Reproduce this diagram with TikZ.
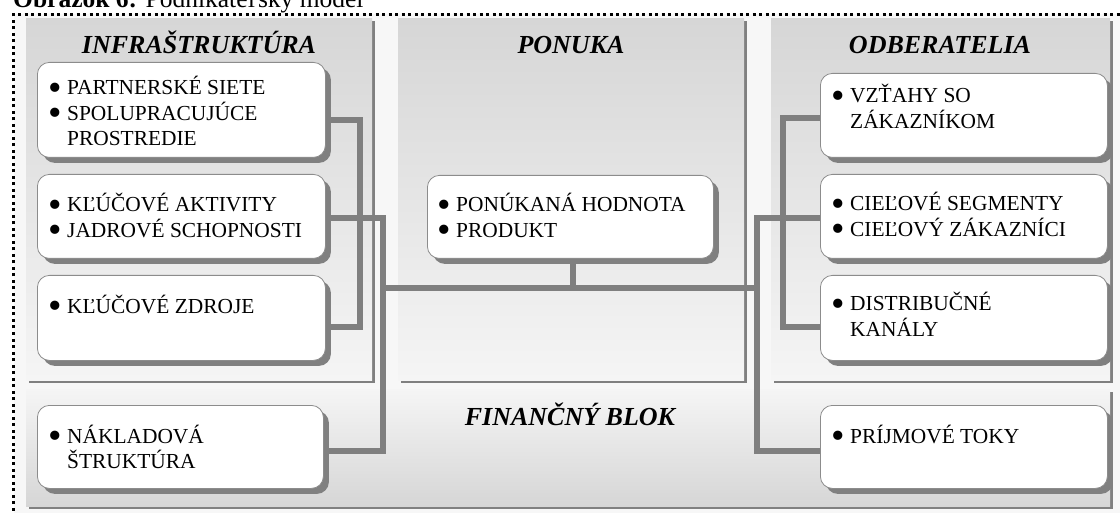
\documentclass[tikz,border=0pt]{standalone}
\usepackage{fontspec}
\usepackage{graphicx}
\setmainfont{Liberation Serif}
\usetikzlibrary{calc,shadows}
\pgfdeclarelayer{panels}
\pgfdeclarelayer{links}
\pgfsetlayers{panels,links,main}
\definecolor{panelDark}{HTML}{D6D6D6}
\definecolor{panelLight}{HTML}{F5F5F5}
\definecolor{edgeGray}{HTML}{808080}
\definecolor{linkGray}{HTML}{7F7F7F}
\definecolor{boxLine}{HTML}{8C8C8C}
\definecolor{paper}{HTML}{F7F7F7}
% enlarged bullet hung to the left of the item text
\newcommand\itm{\llap{\smash{\raisebox{-5.5pt}{\scalebox{1.8}{\textbullet}}}\hspace{5.4pt}}}
\newcommand\rw[1]{\hbox{#1}}
\begin{document}
\begin{tikzpicture}[x=1pt,y=-1pt,
  itembox/.style n args={2}{draw=boxLine, line width=0.8pt, fill=white,
    rounded corners=12pt, minimum width=#1, minimum height=#2, inner sep=0pt,
    anchor=north west,
    drop shadow={shadow xshift=5.5pt, shadow yshift=-5.5pt, fill=edgeGray, opacity=1}},
  itemtext/.style={anchor=base west, inner sep=0pt, font=\fontsize{21.4}{25.5}\selectfont},
  head/.style={anchor=base, inner sep=0pt, font=\fontsize{26}{30}\selectfont\bfseries\itshape},
  link/.style={draw=linkGray, line width=6pt, line join=miter, line cap=rect},
]
\useasboundingbox (0,0) rectangle (1120,513);

% caption line above the frame
\node[anchor=base west, inner sep=0pt, font=\fontsize{25.5}{30}\selectfont] (title)
  at (13,8) {\textbf{Obrázok 6:} Podnikateľský model};

% frame and the four shaded blocks
\begin{pgfonlayer}{panels}
  \fill[white] (0,0) rectangle (1120,513);
  \fill[paper] (13.5,14.5) rectangle (1130,525);
  \foreach \a/\b/\c/\d in {26/19/372/380, 398/19/744/380, 771/19/1110/380} {
    \fill[edgeGray] (\a+2.5,\b+2.5) rectangle (\c+2.5,\d+2.5);
    \shade[top color=panelDark, bottom color=panelLight] (\a,\b) rectangle (\c,\d);
  }
  \fill[edgeGray] (28.5,391.5) rectangle (1112.5,508.5);
  \shade[top color=panelLight, bottom color=panelDark] (26,389) rectangle (1110,506);
\end{pgfonlayer}
\draw[black, line width=3pt, dash pattern=on 3pt off 3.5pt] (13.5,530) -- (13.5,14.5) -- (1130,14.5);

% block titles
\node[head] (hInf) at (199,54) {INFRAŠTRUKTÚRA};
\node[head] (hPon) at (571,54) {PONUKA};
\node[head] (hOdb) at (940,54) {ODBERATELIA};
\node[head] (hFin) at (570,425) {FINANČNÝ BLOK};

% item boxes
\node[itembox={288}{95}] (l1) at (37,62) {};
\node[itembox={288}{84}] (l2) at (37,174) {};
\node[itembox={288}{85}] (l3) at (37,275) {};
\node[itembox={286}{83}] (l4) at (37,405) {};
\node[itembox={286}{83}] (c)  at (427,175) {};
\node[itembox={287}{84}] (r1) at (820,73) {};
\node[itembox={287}{84}] (r2) at (820,174) {};
\node[itembox={287}{85}] (r3) at (820,275) {};
\node[itembox={287}{83}] (r4) at (820,405) {};

% item texts
\node[itemtext] (t1) at (67,95) {\vtop{\rw{\itm PARTNERSKÉ SIETE}\rw{\itm SPOLUPRACUJÚCE}\rw{PROSTREDIE}}};
\node[itemtext] (t2) at (67,212) {\vtop{\rw{\itm KĽÚČOVÉ AKTIVITY}\rw{\itm JADROVÉ SCHOPNOSTI}}};
\node[itemtext] (t3) at (67,313) {\vtop{\rw{\itm KĽÚČOVÉ ZDROJE}}};
\node[itemtext] (t4) at (67,443) {\vtop{\rw{\itm NÁKLADOVÁ}\rw{ŠTRUKTÚRA}}};
\node[itemtext] (tc) at (456,212) {\vtop{\rw{\itm PONÚKANÁ HODNOTA}\rw{\itm PRODUKT}}};
\node[itemtext] (tr1) at (850,103) {\vtop{\rw{\itm VZŤAHY SO}\rw{ZÁKAZNÍKOM}}};
\node[itemtext] (tr2) at (850,211) {\vtop{\rw{\itm CIEĽOVÉ SEGMENTY}\rw{\itm CIEĽOVÝ ZÁKAZNÍCI}}};
\node[itemtext] (tr3) at (850,311) {\vtop{\rw{\itm DISTRIBUČNÉ}\rw{KANÁLY}}};
\node[itemtext] (tr4) at (850,443) {\vtop{\rw{\itm PRÍJMOVÉ TOKY}}};

% connector attachment points and rails
\coordinate (l1o) at ([yshift=-10.5pt]l1.east);
\coordinate (l2o) at ([yshift=-2pt]l2.east);
\coordinate (l3o) at ([yshift=-9.5pt]l3.east);
\coordinate (l4o) at ([yshift=-4.5pt]l4.east);
\coordinate (r1o) at ([yshift=-2.5pt]r1.west);
\coordinate (r2o) at ([yshift=-2pt]r2.west);
\coordinate (r3o) at ([yshift=-9.5pt]r3.west);
\coordinate (r4o) at ([yshift=-4.5pt]r4.west);
\coordinate (co)  at ([xshift=3pt]c.south);
\coordinate (railLi) at (360,0);
\coordinate (railLo) at (383,0);
\coordinate (railRo) at (757,0);
\coordinate (railRi) at (783,0);
\coordinate (hub) at (0,288);

\begin{pgfonlayer}{links}
  \draw[link] (l1o) -- (l1o -| railLi) -- (l3o -| railLi) -- (l3o);
  \draw[link] (l2o) -- (l2o -| railLo) -- (l4o -| railLo) -- (l4o);
  \draw[link] (r1o) -- (r1o -| railRi) -- (r3o -| railRi) -- (r3o);
  \draw[link] (r2o) -- (r2o -| railRo) -- (r4o -| railRo) -- (r4o);
  \draw[link] (hub -| railLo) -- (hub -| railRo);
  \draw[link] (co) -- (co |- hub);
\end{pgfonlayer}
\end{tikzpicture}
\end{document}
